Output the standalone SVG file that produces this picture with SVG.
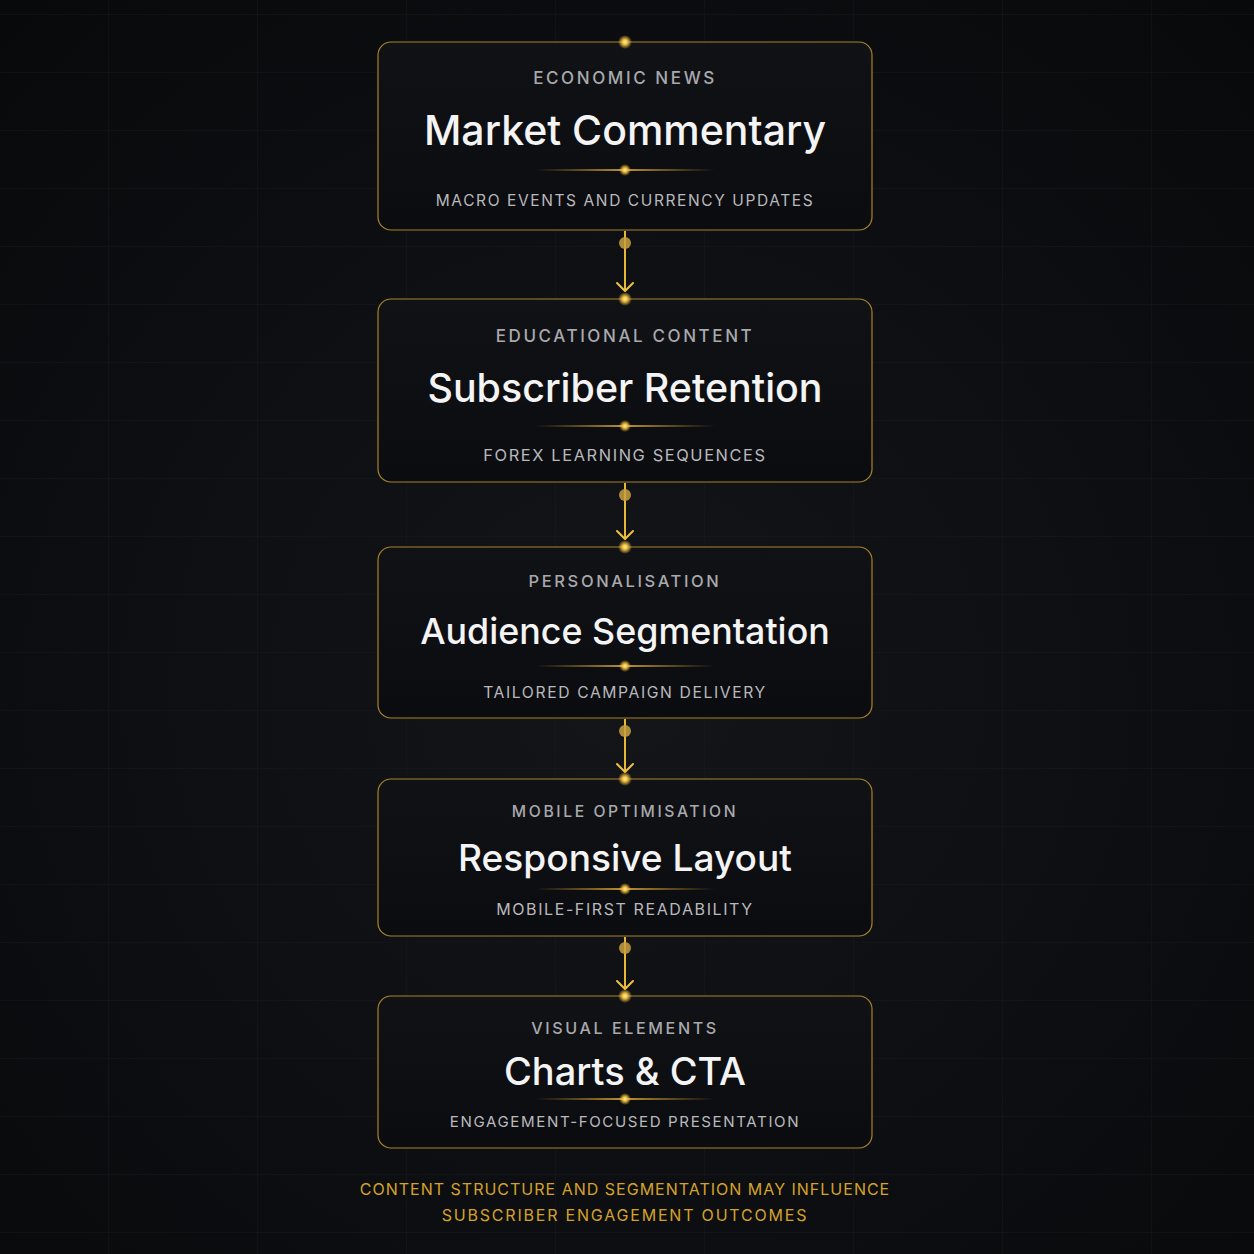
<svg xmlns="http://www.w3.org/2000/svg" width="1254" height="1254" viewBox="0 0 1254 1254">
<defs>
<radialGradient id="bg" cx="50%" cy="55%" r="75%">
<stop offset="0" stop-color="#141519"/>
<stop offset="1" stop-color="#08090b"/>
</radialGradient>
<linearGradient id="card" x1="0" y1="0" x2="0" y2="1">
<stop offset="0" stop-color="#111216"/>
<stop offset="1" stop-color="#0b0c0f"/>
</linearGradient>
<linearGradient id="div" x1="0" y1="0" x2="1" y2="0">
<stop offset="0" stop-color="#d9a52a" stop-opacity="0"/>
<stop offset="0.5" stop-color="#e8b43a" stop-opacity="1"/>
<stop offset="1" stop-color="#d9a52a" stop-opacity="0"/>
</linearGradient>
<radialGradient id="glow">
<stop offset="0" stop-color="#fff2b0"/>
<stop offset="0.35" stop-color="#f2c040"/>
<stop offset="1" stop-color="#f2c040" stop-opacity="0"/>
</radialGradient>
<pattern id="grid" width="149" height="58" patternUnits="userSpaceOnUse" x="108" y="14">
<path d="M0 0V58M0 0H149" fill="none" stroke="#1a1b20" stroke-width="1"/>
</pattern>
</defs>
<style>
.card{fill:url(#card);stroke:#a8822a;stroke-width:1.2}
.cat{font-family:Inter,"Noto Sans",sans-serif;font-size:17px;font-weight:500;letter-spacing:2.6px;fill:#a9a9ad;text-anchor:middle;dominant-baseline:central}
.ttl{font-family:Inter,"Noto Sans",sans-serif;font-weight:500;fill:#f4f4f5;text-anchor:middle;dominant-baseline:central}
.sub{font-family:Inter,"Noto Sans",sans-serif;font-size:16px;font-weight:400;letter-spacing:1.6px;fill:#b9b9bd;text-anchor:middle;dominant-baseline:central}
.foot{font-family:Inter,"Noto Sans",sans-serif;font-size:16px;font-weight:400;fill:#d4a22a;text-anchor:middle;dominant-baseline:central}
.dv{fill:url(#div)}
.line{stroke:#e6b838;stroke-width:2}
.head{fill:none;stroke:#f0c040;stroke-width:2;stroke-linecap:round;stroke-linejoin:round}
.knob{fill:#c9a040;opacity:0.85}
</style>
<rect width="1254" height="1254" fill="url(#bg)"/>
<rect width="1254" height="1254" fill="url(#grid)" opacity="0.8"/>

<g id="connectors">
<line class="line" x1="625" y1="231" x2="625" y2="291"/>
<path class="head" d="M617 283L625 291L633 283"/>
<circle class="knob" cx="625" cy="243" r="6"/>
<line class="line" x1="625" y1="483" x2="625" y2="539"/>
<path class="head" d="M617 531L625 539L633 531"/>
<circle class="knob" cx="625" cy="495" r="6"/>
<line class="line" x1="625" y1="719" x2="625" y2="772"/>
<path class="head" d="M617 764L625 772L633 764"/>
<circle class="knob" cx="625" cy="731" r="6"/>
<line class="line" x1="625" y1="937" x2="625" y2="989"/>
<path class="head" d="M617 981L625 989L633 981"/>
<circle class="knob" cx="625" cy="948" r="6"/>
</g>

<g id="node1">
<rect class="card" x="378" y="42" width="494" height="188" rx="13"/>
<circle cx="625" cy="42" r="7" fill="url(#glow)"/>
<text class="cat" x="625" y="78">ECONOMIC NEWS</text>
<text class="ttl" x="625" y="130" font-size="41">Market Commentary</text>
<rect class="dv" x="535" y="169.2" width="180" height="1.6"/>
<circle cx="625" cy="170" r="6" fill="url(#glow)"/>
<text class="sub" x="625" y="200" style="font-size:15.5px">MACRO EVENTS AND CURRENCY UPDATES</text>
</g>

<g id="node2">
<rect class="card" x="378" y="299" width="494" height="183" rx="13"/>
<circle cx="625" cy="299" r="7" fill="url(#glow)"/>
<text class="cat" x="625" y="336">EDUCATIONAL CONTENT</text>
<text class="ttl" x="625" y="388" font-size="39.4">Subscriber Retention</text>
<rect class="dv" x="535" y="425.2" width="180" height="1.6"/>
<circle cx="625" cy="426" r="6" fill="url(#glow)"/>
<text class="sub" x="625" y="455" style="font-size:16.4px">FOREX LEARNING SEQUENCES</text>
</g>

<g id="node3">
<rect class="card" x="378" y="547" width="494" height="171" rx="13"/>
<circle cx="625" cy="547" r="7" fill="url(#glow)"/>
<text class="cat" x="625" y="581" style="font-size:16.5px">PERSONALISATION</text>
<text class="ttl" x="625" y="631" font-size="35.8">Audience Segmentation</text>
<rect class="dv" x="535" y="665.2" width="180" height="1.6"/>
<circle cx="625" cy="666" r="6" fill="url(#glow)"/>
<text class="sub" x="625" y="692" style="font-size:15.7px">TAILORED CAMPAIGN DELIVERY</text>
</g>

<g id="node4">
<rect class="card" x="378" y="779" width="494" height="157" rx="13"/>
<circle cx="625" cy="779" r="7" fill="url(#glow)"/>
<text class="cat" x="625" y="811" style="font-size:15.7px">MOBILE OPTIMISATION</text>
<text class="ttl" x="625" y="857" font-size="37.1">Responsive Layout</text>
<rect class="dv" x="535" y="888.2" width="180" height="1.6"/>
<circle cx="625" cy="889" r="6" fill="url(#glow)"/>
<text class="sub" x="625" y="909">MOBILE-FIRST READABILITY</text>
</g>

<g id="node5">
<rect class="card" x="378" y="996" width="494" height="152" rx="13"/>
<circle cx="625" cy="996" r="7" fill="url(#glow)"/>
<text class="cat" x="625" y="1028" style="font-size:16.1px">VISUAL ELEMENTS</text>
<text class="ttl" x="625" y="1071" font-size="38">Charts &amp; CTA</text>
<rect class="dv" x="535" y="1098.2" width="180" height="1.6"/>
<circle cx="625" cy="1099" r="6" fill="url(#glow)"/>
<text class="sub" x="625" y="1121" style="font-size:15.1px">ENGAGEMENT-FOCUSED PRESENTATION</text>
</g>

<g id="footer">
<text class="foot" x="625" y="1189" letter-spacing="1">CONTENT STRUCTURE AND SEGMENTATION MAY INFLUENCE</text>
<text class="foot" x="625" y="1215" letter-spacing="1.8">SUBSCRIBER ENGAGEMENT OUTCOMES</text>
</g>
</svg>
